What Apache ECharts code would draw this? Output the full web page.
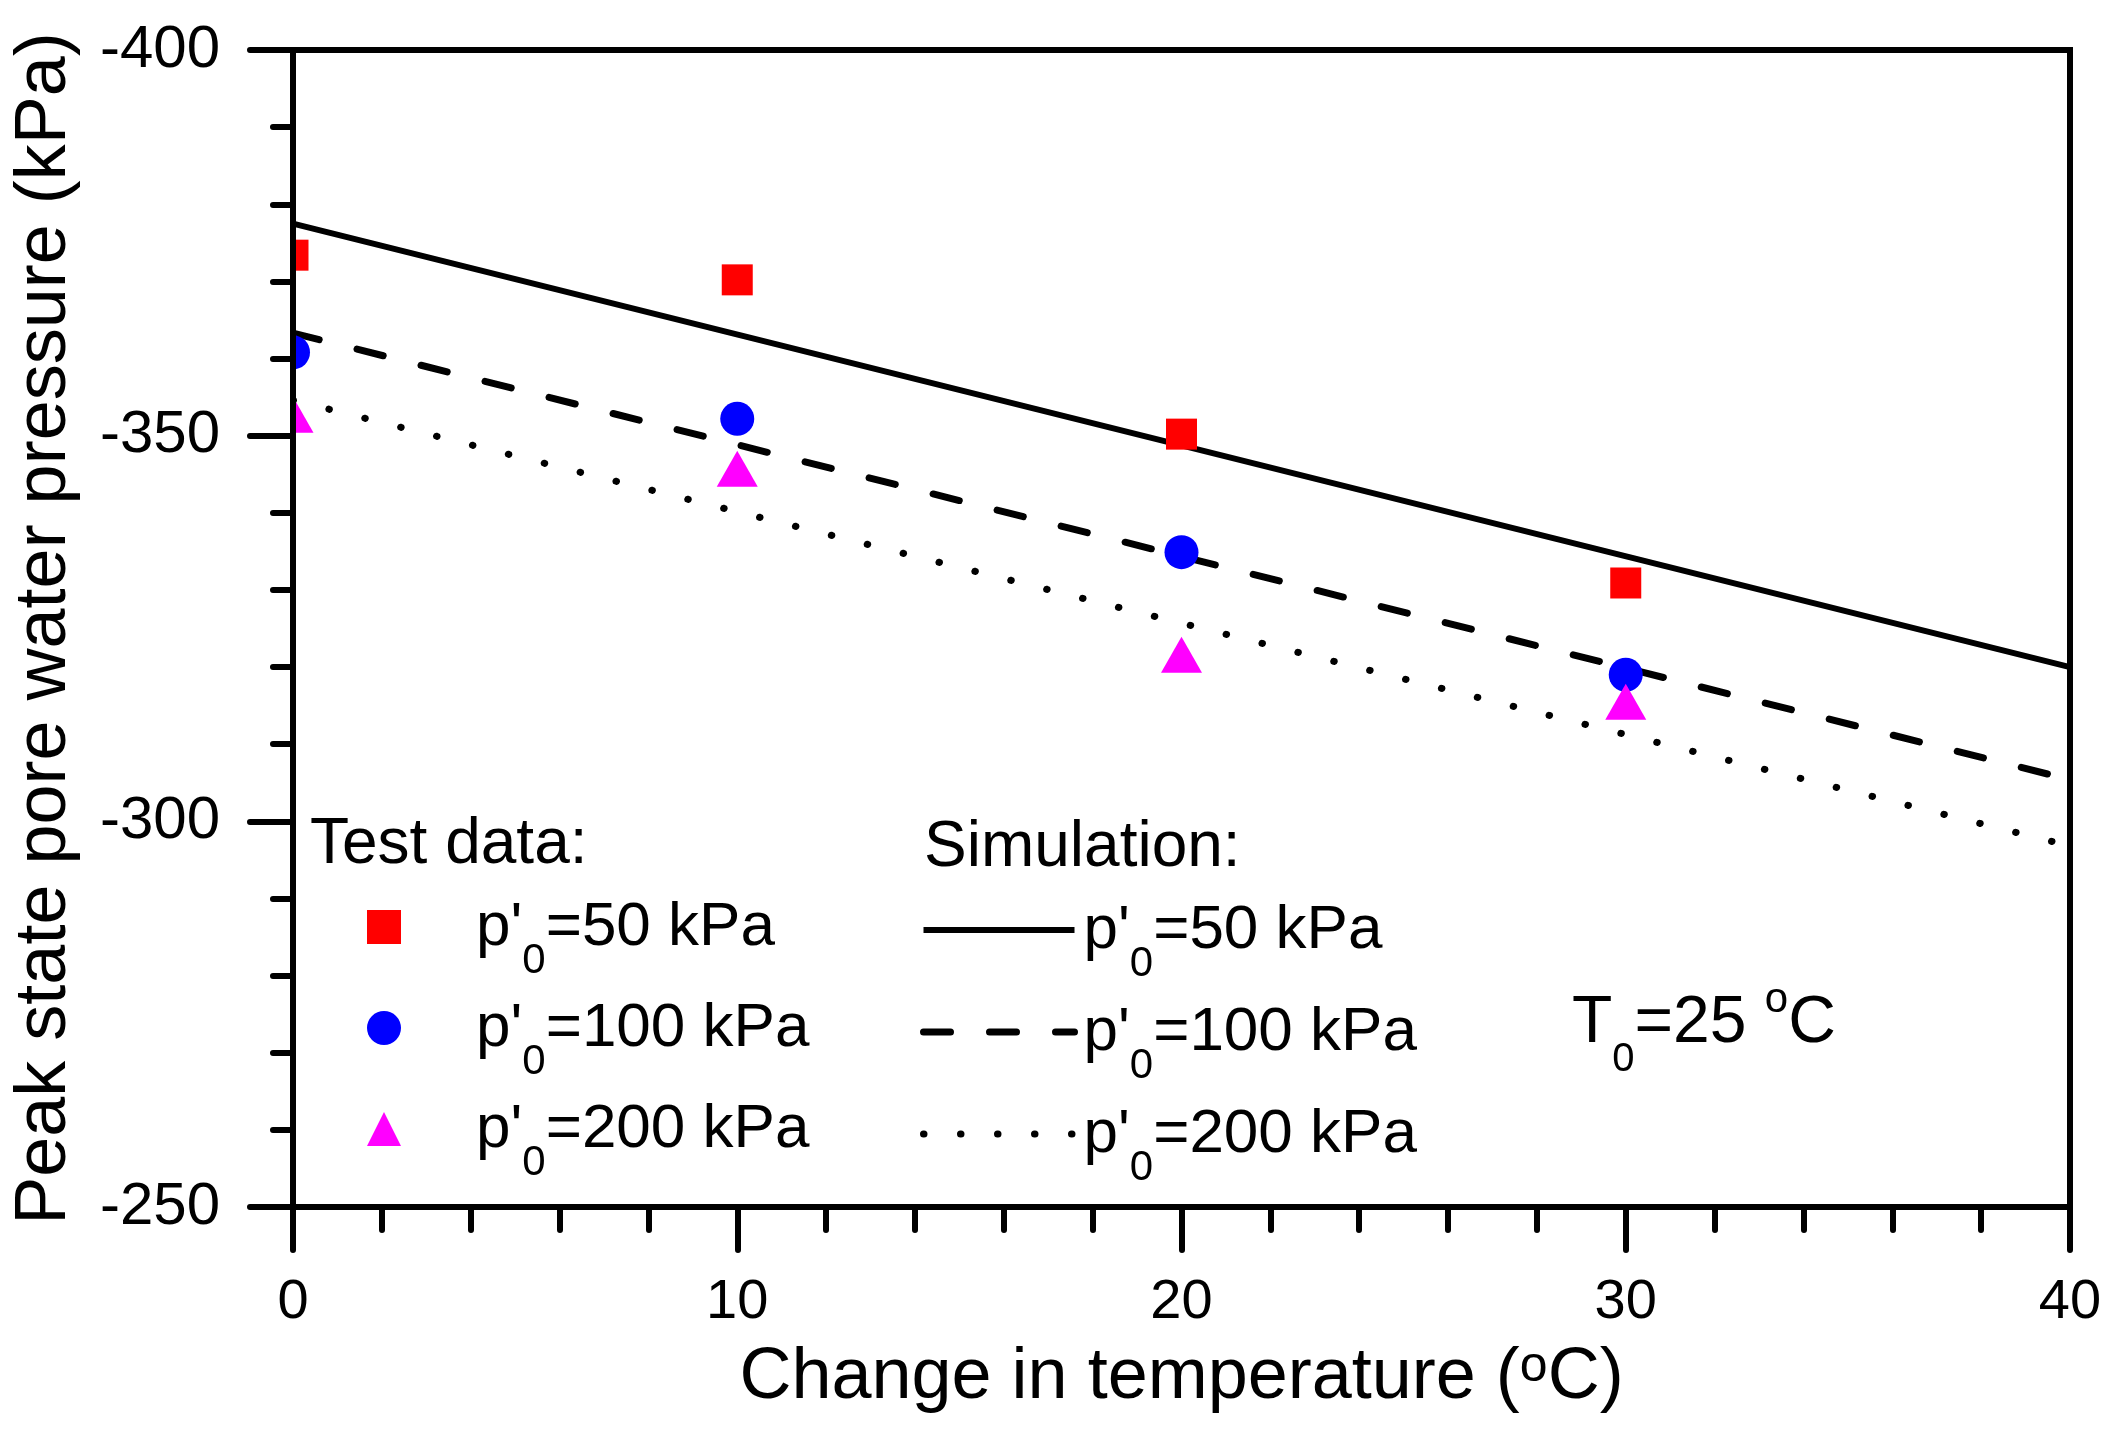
<!DOCTYPE html>
<html><head><meta charset="utf-8">
<script src="https://cdn.jsdelivr.net/npm/echarts@6/dist/echarts.min.js"></script>
<style>html,body{margin:0;padding:0;background:#fff}#c{width:2112px;height:1430px}</style>
</head><body><div id="c"></div>
<script>
// ---- data ----
const temps = [0, 10, 20, 30];                       // change in temperature (°C)
const test50 = [-373.4, -370.2, -350.2, -330.9];     // test data p'0=50 kPa
const test100 = [-360.8, -352.2, -334.9, -319.0];    // test data p'0=100 kPa
const test200 = [-352.7, -345.7, -321.6, -315.5];    // test data p'0=200 kPa
const simT = [0, 40];
const sim50 = [-377.5, -320.0];                      // simulation p'0=50 kPa
const sim100 = [-363.3, -305.4];                     // simulation p'0=100 kPa
const sim200 = [-354.6, -296.8];                     // simulation p'0=200 kPa
const xRange = [0, 40];
const yRange = [-400, -250];
const pressureLabels = ['50', '100', '200'];         // p'0 values in legend (kPa)

const FF = "'Liberation Sans', Arial, sans-serif";
const pair = (xs, ys) => xs.map((x, i) => [x, ys[i]]);

const chart = echarts.init(document.getElementById('c'), null, {renderer: 'canvas'});

const itemRich = (spacer) => ({
  g: {width: spacer, fontSize: 10, lineHeight: 10, verticalAlign: 'top'},
  m: {fontSize: 62, lineHeight: 62, padding: [1, 0, 0, 0], verticalAlign: 'top', fontFamily: FF, color: '#000'},
  s: {fontSize: 42, lineHeight: 42, padding: [44, 0, 0, 0], verticalAlign: 'top', fontFamily: FF, color: '#000'}
});
const nameToIdx = {};
['test', 'sim'].forEach(k => pressureLabels.forEach((p, i) => { nameToIdx[k + p] = i; }));
const fmt = name => "{g| }{m|p'}{s|0}{m|=" + pressureLabels[nameToIdx[name]] + " kPa}";

const solidStyle = {color: '#000', width: 6, type: 'solid', cap: 'butt'};
const dashStyle = {color: '#000', width: 7, type: [27, 39], cap: 'round'};
const dotStyle = {color: '#000', width: 7, type: [0.5, 36.5], cap: 'round'};

const option = {
  animation: false,
  backgroundColor: '#fff',
  grid: {left: 293, right: 42, top: 50, bottom: 223, show: true, borderColor: '#000', borderWidth: 6, backgroundColor: 'transparent'},
  xAxis: {
    type: 'value', min: xRange[0], max: xRange[1], interval: 10,
    name: '{a|Change in temperature (}{o|o}{a|C)}',
    nameLocation: 'middle', nameGap: 135,
    nameTextStyle: {
      rich: {
        a: {fontSize: 72, lineHeight: 72, verticalAlign: 'top', fontFamily: FF, color: '#000'},
        o: {fontSize: 50, lineHeight: 50, verticalAlign: 'top', fontFamily: FF, color: '#000'}
      }
    },
    axisLine: {onZero: false, lineStyle: {color: '#000', width: 6}},
    axisTick: {length: 43, lineStyle: {color: '#000', width: 6, cap: 'round'}},
    minorTick: {show: true, splitNumber: 5, length: 23, lineStyle: {color: '#000', width: 6, cap: 'round'}},
    axisLabel: {fontSize: 56, margin: 68, color: '#000', fontFamily: FF},
    splitLine: {show: false}, minorSplitLine: {show: false},
    z: 10
  },
  yAxis: {
    type: 'value', min: yRange[0], max: yRange[1], interval: 50, inverse: true,
    name: 'Peak state pore water pressure (kPa)',
    nameLocation: 'middle', nameGap: 212,
    nameTextStyle: {fontSize: 72, lineHeight: 72, fontFamily: FF, color: '#000'},
    axisLine: {onZero: false, lineStyle: {color: '#000', width: 6}},
    axisTick: {length: 43, lineStyle: {color: '#000', width: 6, cap: 'round'}},
    minorTick: {show: true, splitNumber: 5, length: 20, lineStyle: {color: '#000', width: 6, cap: 'round'}},
    axisLabel: {fontSize: 60, margin: 73, color: '#000', fontFamily: FF},
    splitLine: {show: false}, minorSplitLine: {show: false},
    z: 10
  },
  legend: [
    {
      orient: 'vertical', left: 367, top: 896, padding: 0, itemGap: 15,
      itemWidth: 34, itemHeight: 34, selectedMode: false,
      data: ['test50', 'test100', 'test200'],
      formatter: fmt,
      textStyle: {rich: itemRich(70)}
    },
    {
      orient: 'vertical', left: 920, top: 899, padding: 0, itemGap: 16,
      itemWidth: 151, itemHeight: 34, selectedMode: false,
      data: [
        {name: 'sim50', lineStyle: solidStyle},
        {name: 'sim100', lineStyle: dashStyle},
        {name: 'sim200', lineStyle: dotStyle}
      ],
      formatter: fmt,
      itemStyle: {color: 'rgba(0,0,0,0)', borderWidth: 0, opacity: 0},
      textStyle: {rich: itemRich(4)}
    }
  ],
  series: [
    {name: 'sim50', type: 'line', data: pair(simT, sim50), symbol: 'none', z: 2,
     itemStyle: {color: 'rgba(0,0,0,0)'}, lineStyle: solidStyle},
    {name: 'sim100', type: 'line', data: pair(simT, sim100), symbol: 'none', z: 2,
     itemStyle: {color: 'rgba(0,0,0,0)'}, lineStyle: dashStyle},
    {name: 'sim200', type: 'line', data: pair(simT, sim200), symbol: 'none', z: 2,
     itemStyle: {color: 'rgba(0,0,0,0)'}, lineStyle: dotStyle},
    {name: 'test50', type: 'scatter', data: pair(temps, test50), symbol: 'rect', symbolSize: 31, z: 3,
     itemStyle: {color: '#ff0000', opacity: 1}},
    {name: 'test100', type: 'scatter', data: pair(temps, test100), symbol: 'circle', symbolSize: 34, z: 3,
     itemStyle: {color: '#0000ff', opacity: 1}},
    {name: 'test200', type: 'scatter', data: pair(temps, test200), symbol: 'triangle', symbolSize: [41, 36], z: 3,
     itemStyle: {color: '#ff00ff', opacity: 1}}
  ],
  graphic: [
    {type: 'rect', z: 5, silent: true, shape: {x: 258, y: 225, width: 32, height: 235}, style: {fill: '#fff'}},
    {type: 'text', z: 20, style: {x: 310, y: 845, text: 'Test data:', font: '64px ' + FF, fill: '#000', verticalAlign: 'middle'}},
    {type: 'text', z: 20, style: {x: 924, y: 848, text: 'Simulation:', font: '64px ' + FF, fill: '#000', verticalAlign: 'middle'}},
    {type: 'text', z: 20, style: {
      x: 1572, y: 979, verticalAlign: 'top',
      text: '{m|T}{s|0}{m|=25 }{o|o}{m|C}',
      rich: {
        m: {fontSize: 66, lineHeight: 66, padding: [12, 0, 0, 0], verticalAlign: 'top', fontFamily: FF, fill: '#000', color: '#000'},
        s: {fontSize: 40, lineHeight: 40, padding: [61, 0, 0, 0], verticalAlign: 'top', fontFamily: FF, fill: '#000', color: '#000'},
        o: {fontSize: 42, lineHeight: 42, padding: [0, 0, 0, 0], verticalAlign: 'top', fontFamily: FF, fill: '#000', color: '#000'}
      }
    }}
  ]
};
chart.setOption(option);
</script></body></html>
